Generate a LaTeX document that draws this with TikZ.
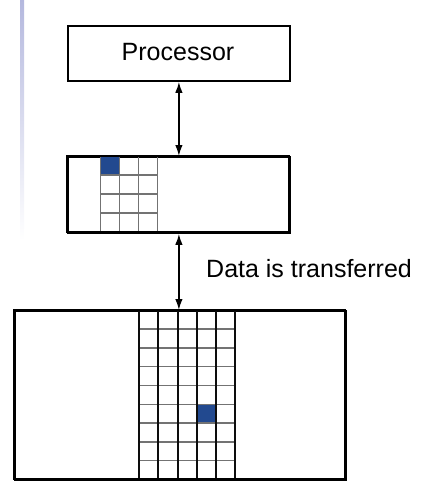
\documentclass[tikz,border=0pt]{standalone}
\usepackage{fontspec}
\setmainfont{Liberation Sans}
\usetikzlibrary{arrows.meta}
\definecolor{cellblue}{HTML}{22498F}
\definecolor{barlav}{HTML}{B4B8DE}
\tikzset{
  box/.style={draw=black, line width=1.8pt, inner sep=0pt, anchor=north west},
  conn/.style={line width=1.6pt, {Latex[length=11pt,width=7.5pt]}-{Latex[length=11pt,width=7.5pt]}},
  gridgray/.style={draw=black!55, line width=1.4pt},
  gridblack/.style={draw=black!95, line width=1.7pt},
  lbl/.style={font=\fontsize{25}{29}\selectfont, inner sep=0pt}
}
\begin{document}
\begin{tikzpicture}[x=1pt,y=-1pt]
\useasboundingbox (0,0) rectangle (427,500);
\fill[top color=barlav, bottom color=white] (20,0) rectangle (24,240);
% processor
\node[box, minimum width=222pt, minimum height=55pt] (proc) at (67,25) {};
\node[lbl] (proctxt) at (178,52) {Processor};
% cache
\node[box, minimum width=222pt, minimum height=76pt] (cache) at (67,156) {};
\fill[cellblue] (101,156) rectangle (119.7,175);
\foreach \y in {175,194,213} \draw[gridgray] (100.7,\y) -- (157.7,\y);
\foreach \x in {100.7,119.7,138.7,157.7} \draw[gridgray] (\x,156) -- (\x,232);
\draw[line width=1.8pt] (67,156) rectangle (289,232);
% memory
\node[box, minimum width=331pt, minimum height=169pt] (mem) at (14,310) {};
\fill[cellblue] (197,404.7) rectangle (216,423.3);
\foreach \y in {329,347.8,366.6,385.4,404.2,423,441.8,460.6} \draw[gridgray] (139.3,\y) -- (235,\y);
\foreach \x in {139.3,158.3,178,197,216,235} \draw[gridblack] (\x,310) -- (\x,479);
\draw[line width=1.8pt] (14,310) rectangle (345,479);
% connectors
\draw[conn] (proc.south) -- (cache.north);
\draw[conn] (cache.south -| proc.south) -- (mem.north -| proc.south);
\node[lbl, anchor=base west] (datatxt) at (206,277.5) {Data is transferred};
\end{tikzpicture}
\end{document}
